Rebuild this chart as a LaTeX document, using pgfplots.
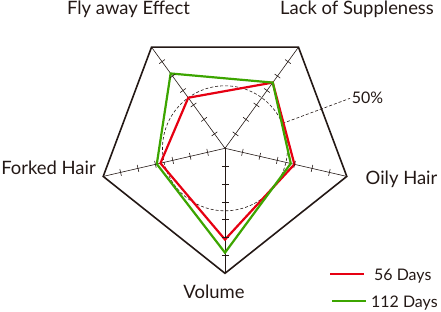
\documentclass[border=0pt]{standalone}
\usepackage{pgfplots}
\pgfplotsset{compat=1.18}
\usepgfplotslibrary{polar}
\usepackage{fontspec}
\setmainfont{Lato}
\definecolor{ink}{RGB}{35,24,21}
\definecolor{cred}{RGB}{230,0,18}
\definecolor{cgreen}{RGB}{60,165,0}
\begin{document}
\begin{tikzpicture}[x=1bp,y=1bp]
\path[use as bounding box] (-225,-162.7) rectangle (216,148.3);
\begin{polaraxis}[at={(0,0)},anchor=center, width=250bp, height=250bp, scale only axis,
  ymin=0, ymax=100, hide axis, clip=false]
% outline
\addplot[ink, line width=1.6bp, line join=miter, no markers] coordinates {(270,100) (347,100) (54,100) (126,100) (193,100)} --cycle;
% spokes
\addplot[ink, line width=0.6bp, no markers] coordinates {(270,0) (270,100)};
\addplot[ink, line width=0.6bp, no markers] coordinates {(347,0) (347,100)};
\addplot[ink, line width=0.6bp, no markers] coordinates {(54,0) (54,100)};
\addplot[ink, line width=0.6bp, no markers] coordinates {(126,0) (126,100)};
\addplot[ink, line width=0.6bp, no markers] coordinates {(193,0) (193,100)};
% ticks
\addplot[ink, only marks, mark=|, mark size=3.5bp, mark options={line width=0.6bp, rotate=270}] coordinates {(270,14.286) (270,28.571) (270,42.857) (270,57.143) (270,71.429) (270,85.714)};
\addplot[ink, only marks, mark=|, mark size=3.5bp, mark options={line width=0.6bp, rotate=347}] coordinates {(347,14.286) (347,28.571) (347,42.857) (347,57.143) (347,71.429) (347,85.714)};
\addplot[ink, only marks, mark=|, mark size=3.5bp, mark options={line width=0.6bp, rotate=54}] coordinates {(54,14.286) (54,28.571) (54,42.857) (54,57.143) (54,71.429) (54,85.714)};
\addplot[ink, only marks, mark=|, mark size=3.5bp, mark options={line width=0.6bp, rotate=126}] coordinates {(126,14.286) (126,28.571) (126,42.857) (126,57.143) (126,71.429) (126,85.714)};
\addplot[ink, only marks, mark=|, mark size=3.5bp, mark options={line width=0.6bp, rotate=193}] coordinates {(193,14.286) (193,28.571) (193,42.857) (193,57.143) (193,71.429) (193,85.714)};
% 50% circle and leader
\draw[ink, line width=0.6bp, dash pattern=on 3bp off 2bp] (axis cs:0,0) circle[radius=62.5bp];
\addplot[ink, line width=0.6bp, dash pattern=on 3bp off 2bp, no markers] coordinates {(23.4,50) (21.8,107.7)};
% data
\addplot[cred, line width=2.2bp, line join=miter, no markers] coordinates {(126,50) (54,65) (347,57) (270,73) (193,53)} --cycle;
\addplot[cgreen, line width=2.2bp, line join=miter, no markers] coordinates {(126,74) (54,65) (347,54) (270,83.5) (193,56)} --cycle;
\end{polaraxis}
\begin{scope}[every node/.style={text=ink, inner sep=0pt, font=\fontsize{18.5}{20}\selectfont}]
\node[anchor=base] at (-96.5,134.3) {Fly away Effect};
\node[anchor=base] at (132,134.3) {Lack of Suppleness};
\node[anchor=base] at (-176.5,-25.7) {Forked Hair};
\node[anchor=base] at (176.5,-35.7) {Oily Hair};
\node[anchor=base] at (-11,-149.7) {Volume};
\end{scope}
\begin{scope}[every node/.style={text=ink, inner sep=0pt, font=\fontsize{16}{18}\selectfont}]
\node[anchor=base] at (142.5,45.3) {50\%};
\node[anchor=base west] at (149,-132.4) {56 Days};
\node[anchor=base west] at (146,-158.7) {112 Days};
\end{scope}
\draw[cred, line width=1.8bp] (105,-126) -- (139,-126);
\draw[cgreen, line width=1.8bp] (107,-152.7) -- (141,-152.7);
\end{tikzpicture}
\end{document}
